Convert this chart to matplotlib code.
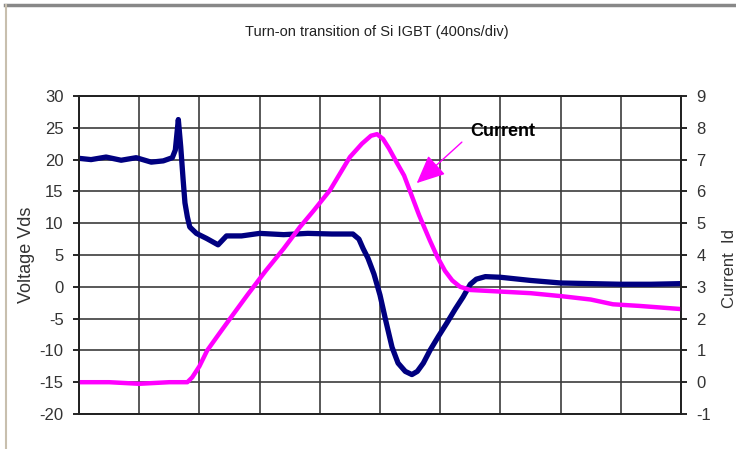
import matplotlib
matplotlib.use('Agg')
import matplotlib.pyplot as plt
from matplotlib.lines import Line2D

matplotlib.rcParams['axes.unicode_minus'] = False

# time axis in divisions (400 ns/div)
t_v = [0.0, 0.2, 0.45, 0.7, 0.95, 1.2, 1.4, 1.55, 1.6, 1.65, 1.69, 1.73, 1.76, 1.8,
       1.84, 1.95, 2.12, 2.31, 2.45, 2.7, 3.0, 3.4, 3.8, 4.2, 4.55, 4.65, 4.72, 4.8,
       4.9, 5.0, 5.1, 5.2, 5.3, 5.42, 5.53, 5.62, 5.72, 5.83, 5.97, 6.11, 6.25, 6.38,
       6.5, 6.6, 6.75, 7.0, 7.5, 8.0, 8.5, 9.0, 9.5, 10.0]
vds = [20.2, 20.0, 20.4, 19.9, 20.3, 19.6, 19.8, 20.3, 21.5, 26.3, 22.0, 16.8, 13.2, 11.0,
       9.4, 8.4, 7.6, 6.6, 8.0, 8.0, 8.4, 8.2, 8.4, 8.3, 8.3, 7.5, 6.0, 4.5,
       2.0, -1.3, -5.5, -9.5, -12.0, -13.3, -13.8, -13.3, -12.0, -10.0, -7.8, -5.7, -3.5, -1.6,
       0.4, 1.2, 1.6, 1.5, 1.0, 0.6, 0.5, 0.4, 0.4, 0.5]

t_i = [0.0, 0.5, 1.0, 1.5, 1.8, 1.88, 2.0, 2.13, 2.3, 2.51, 2.8, 3.1, 3.4, 3.67, 3.9,
       4.17, 4.5, 4.7, 4.85, 4.95, 5.05, 5.15, 5.28, 5.4, 5.5, 5.65, 5.83, 5.95, 6.08,
       6.2, 6.33, 6.5, 6.9, 7.5, 8.04, 8.5, 8.87, 9.3, 10.0]
i_d = [0.0, 0.0, -0.05, 0.0, 0.0, 0.15, 0.5, 1.0, 1.45, 2.0, 2.75, 3.5, 4.2, 4.88, 5.4,
       6.04, 7.08, 7.5, 7.75, 7.8, 7.65, 7.35, 6.9, 6.5, 6.0, 5.25, 4.45, 3.95, 3.5,
       3.2, 3.0, 2.9, 2.86, 2.8, 2.7, 2.6, 2.45, 2.4, 2.3]

v_ticks = list(range(-20, 31, 5))
i_ticks = list(range(-1, 10))

font = ['Liberation Sans', 'DejaVu Sans']

fig = plt.figure(figsize=(7.36, 4.49), dpi=100)
ax = fig.add_axes([79/736, 35/449, 602/736, 318/449])
ax2 = ax.twinx()

ax.plot(t_v, vds, color='#000080', linewidth=3.8)
ax2.plot(t_i, i_d, color='#ff00ff', linewidth=3.2)

ax.set_xlim(0, 10)
ax.set_ylim(-20, 30)
ax2.set_ylim(-1, 9)
ax.set_xticks(range(0, 11))
ax.set_yticks(v_ticks)
ax2.set_yticks(i_ticks)
ax.set_xticklabels([])
ax.tick_params(axis='x', length=0)
ax.grid(True, color='#3c3c3c', linewidth=1.2)
ax.set_axisbelow(True)

for a in (ax, ax2):
    for s in a.spines.values():
        s.set_color('#222222')
        s.set_linewidth(1.3)
ax.tick_params(axis='y', length=4, width=1.2, pad=7, labelcolor='#333333')
ax2.tick_params(axis='y', length=4, width=1.2, pad=7, labelcolor='#333333')
for lab in ax.get_yticklabels() + ax2.get_yticklabels():
    lab.set_family(font)
    lab.set_fontsize(12)

ax.set_ylabel('Voltage Vds', family=font, fontsize=13, color='#333333')
ax.yaxis.set_label_coords(-0.073, 0.5)
ax2.set_ylabel('Current  Id', family=font, fontsize=12, color='#333333')
ax2.yaxis.set_label_coords(1.068, 0.459)

fig.text(0.512, 1 - 32/449, 'Turn-on transition of Si IGBT (400ns/div)', family=font,
         fontsize=10.5, color='#222222', ha='center', va='center')

ax2.text(7.04, 7.87, 'Current', family=font, fontsize=13, fontweight='bold',
         ha='center', va='center')
ax2.annotate('', xy=(5.61, 6.26), xytext=(6.36, 7.55),
             arrowprops=dict(arrowstyle='-|>,head_length=1.1,head_width=0.5',
                             color='#ff00ff', lw=1.0, mutation_scale=16,
                             shrinkA=0, shrinkB=0))

# outer chart frame (top and left edges visible)
fig.add_artist(Line2D([5/736, 1], [1 - 5/449, 1 - 5/449], color='#888888', linewidth=2.5))
fig.add_artist(Line2D([6/736, 6/736], [0, 1 - 5/449], color='#c8bfae', linewidth=1.5))

plt.savefig('out.png', dpi=100)
plt.close()
